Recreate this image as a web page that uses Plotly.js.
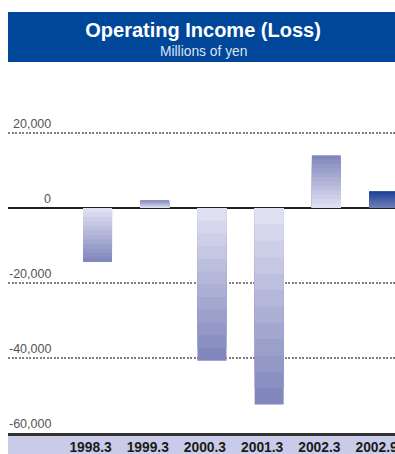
<!DOCTYPE html>
<html><head><meta charset="utf-8">
<script src="https://cdn.plot.ly/plotly-3.0.1.min.js"></script>
<style>html,body{margin:0;padding:0;background:#fff}#chart{width:395px;height:454px}</style>
</head><body><div id="chart"></div>
<script>
// ---- data ----
const categories = ['1998.3', '1999.3', '2000.3', '2001.3', '2002.3', '2002.9'];
const operatingIncome = [-14400, 2100, -40700, -52400, 14100, 4500];
const yTickValues = [20000, 0, -20000, -40000, -60000];
const yTickLabels = ['20,000', '0', '-20,000', '-40,000', '-60,000'];
const titleText = 'Operating Income (Loss)';
const subtitleText = 'Millions of yen';

// ---- styling ----
const normalDark = [130, 136, 189], normalLight = [222, 223, 241];
const hiDark = [28, 66, 150], hiLight = [112, 124, 182];
const highlightIndex = 5;
const STEPS = 12;
function mix(a, b, t) {
  return 'rgb(' + a.map((v, i) => Math.round(v + (b[i] - v) * t)).join(',') + ')';
}
const traces = [];
for (let k = 0; k < STEPS; k++) {
  const frac = (STEPS - k) / STEPS;
  const t = k / (STEPS - 1);
  traces.push({
    type: 'bar',
    x: categories,
    y: operatingIncome.map(v => v * frac),
    width: 0.507,
    marker: {
      color: categories.map((c, i) => i === highlightIndex ? mix(hiDark, hiLight, t) : mix(normalDark, normalLight, t)),
      line: {width: 0}
    },
    hoverinfo: k === 0 ? 'x+y' : 'skip',
    showlegend: false
  });
}

const sans = 'Arial, "Liberation Sans", sans-serif';
const annotations = yTickValues.map((v, i) => ({
  xref: 'paper', yref: 'y', x: 0.116, y: v,
  xanchor: 'right', yanchor: 'bottom', yshift: 0,
  text: yTickLabels[i], showarrow: false,
  font: {family: sans, size: 12.5, color: '#555'}
}));
annotations.push({
  xref: 'paper', yref: 'paper', x: 0.504, y: 1.052, xanchor: 'center', yanchor: 'middle',
  text: subtitleText, showarrow: false,
  font: {family: sans, size: 13.8, color: '#dfe3f2'}
});

const layout = {
  width: 395, height: 454,
  margin: {l: 8, r: 0, t: 70, b: 21},
  paper_bgcolor: '#fff', plot_bgcolor: '#fff',
  barmode: 'overlay',
  title: {
    text: '<b>' + titleText + '</b>',
    xref: 'paper', x: 0.504, xanchor: 'center',
    yref: 'container', y: 0.934, yanchor: 'middle',
    font: {family: sans, size: 20, color: '#ffffff'}
  },
  xaxis: {
    type: 'category', categoryorder: 'array', categoryarray: categories,
    range: [-1.565, 5.2],
    showline: true, linecolor: '#333', linewidth: 2.5,
    ticks: '', showgrid: false, zeroline: false,
    ticklabelshift: -7,
    tickfont: {family: sans, size: 13.8, color: '#1a1a1a', weight: 'bold'}
  },
  yaxis: {
    range: [-60000, 36800],
    tickvals: yTickValues, showticklabels: false, ticks: '',
    showgrid: true, gridcolor: '#808080', gridwidth: 1.3, griddash: '2px,1.5px',
    zeroline: true, zerolinecolor: '#222', zerolinewidth: 1.2,
    showline: false
  },
  shapes: [
    {type: 'rect', xref: 'paper', yref: 'paper', x0: 0, x1: 1, y0: 1.022, y1: 1.1598,
     fillcolor: '#00479a', line: {width: 0}, layer: 'below'},
    {type: 'rect', xref: 'paper', yref: 'paper', x0: 0, x1: 1, y0: 0, y1: -0.0579,
     fillcolor: '#c9cbe8', line: {width: 0}, layer: 'below'}
  ],
  annotations: annotations,
  font: {family: sans}
};

Plotly.newPlot('chart', traces, layout, {displayModeBar: false, staticPlot: true});
</script>
</body></html>
